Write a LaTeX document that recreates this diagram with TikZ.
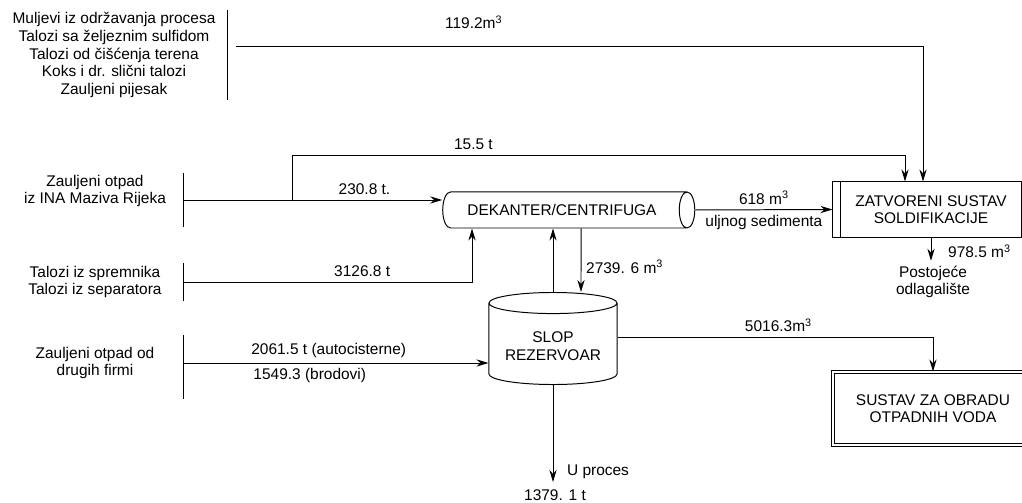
\documentclass[tikz,border=0pt]{standalone}
\usepackage{fontspec}
\setmainfont{Liberation Sans}
\usetikzlibrary{positioning, arrows.meta, shapes.geometric, calc}

\begin{document}
\begin{tikzpicture}[
    x=0.025cm, y=-0.025cm,
    font=\fontsize{11}{12.5}\selectfont,
    line width=0.7pt,
    src/.style={align=center},
    drum/.style={cylinder, draw=black, aspect=0.75, minimum width=0.9cm, minimum height=6.3cm, align=center},
    tank/.style={cylinder, draw=black, shape border rotate=90, aspect=0.2, minimum height=2.3cm, minimum width=3.2cm, align=center},
    box/.style={rectangle, draw=black, align=center, minimum height=1.375cm, minimum width=4.5cm},
    dbox/.style={rectangle, draw=black, double, double distance=2pt, align=center, minimum height=1.825cm, minimum width=5cm},
    arrow/.style={-{Stealth[length=3mm, width=1.8mm]}}
  ]
    \useasboundingbox (0,0) rectangle (1022,503);

    % Nodes
    \node[src] (src1) at (114,55) {Muljevi iz održavanja procesa\\Talozi sa željeznim sulfidom\\Talozi od čišćenja terena\\Koks i dr. slični talozi\\Zauljeni pijesak};
    \node[src] (src2) at (95,191) {Zauljeni otpad\\iz INA Maziva Rijeka};
    \node[src] (src3) at (95,282) {Talozi iz spremnika\\Talozi iz separatora};
    \node[src] (src4) at (95,363) {Zauljeni otpad od\\drugih firmi};

    \node[drum] (dek) at (562,210) {DEKANTER/CENTRIFUGA};
    \node[tank] (slop) at (553,346) {SLOP\\REZERVOAR};
    \node[box] (zat) at (931,209.5) {ZATVORENI SUSTAV\\SOLDIFIKACIJE};
    \node[dbox] (sus) at (933,408.5) {SUSTAV ZA OBRADU\\OTPADNIH VODA};
    \node[src] (post) at (933,282) {Postojeće\\odlagalište};
    \node (uproc) at (598,472) {U proces};
    \node[inner sep=0pt] (qty) at (555,495) {1379. 1 t};

    % bars and ends
    \draw (227,10) -- (227,100);
    \draw (183,173) -- (183,227);
    \draw (183,263) -- (183,301);
    \draw (183,335) -- (183,399);
    \draw ($(zat.north west)+(-8,0)$) rectangle (zat.south west);

    \coordinate (s1) at (236,46);
    \coordinate (s2) at (183,200);
    \coordinate (b1) at (292,200);
    \coordinate (s3) at (183,282);
    \coordinate (s4) at (183,363);
    \coordinate (out) at (553,482);

    % Arrows
    \draw[arrow] (s1) -| node[above=0.3cm, pos=0.173] {119.2m\textsuperscript{3}} ($(zat.north)+(-8,0)$);
    \draw[arrow] (b1) -- ++(0,-45) -| node[above, pos=0.148] {15.5 t} ($(zat.north)+(-26,0)$);
    \draw[arrow] (s2) -- node[above, pos=0.7] {230.8 t.} (s2 -| dek.west);
    \draw[arrow] (s3) -| node[above, pos=0.31] {3126.8 t} ($(dek.south)+(-90,0)$);
    \draw[arrow] (dek.east) -- node[above] {618 m\textsuperscript{3}} node[below] {uljnog sedimenta} ($(zat.west)+(-8,0)$);
    \draw[arrow] (zat.south) -- node[right=0.3cm, pos=0.6] {978.5 m\textsuperscript{3}} (zat.south |- post.north);
    \draw[arrow] (slop.north) -- (slop.north |- dek.south);
    \draw[arrow] ($(dek.south)+(19,0)$) -- node[right, pos=0.6] {2739. 6 m\textsuperscript{3}} ($(slop.north)+(28,0)$);
    \draw[arrow] (s4) -- node[above, pos=0.477] {2061.5 t (autocisterne)} node[below, pos=0.415] {1549.3 (brodovi)} (s4 -| slop.west);
    \draw[arrow] ($(slop.east)+(0,-9)$) -| node[above, pos=0.255] {5016.3m\textsuperscript{3}} (sus.north);
    \draw[arrow] (slop.south) -- (out);
  \end{tikzpicture}
\end{document}
